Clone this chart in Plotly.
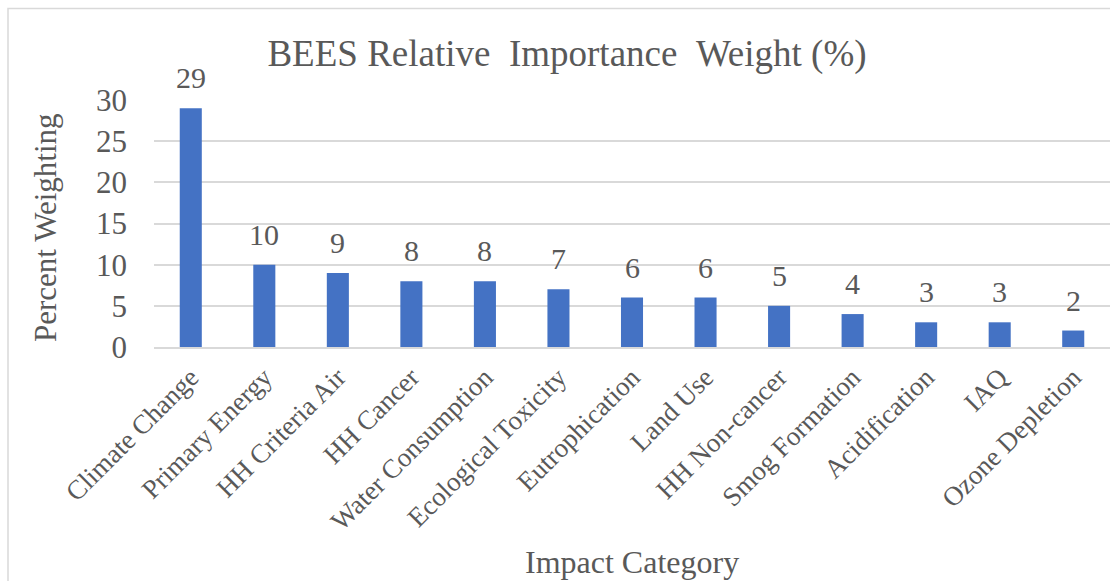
import plotly.graph_objects as go

categories = ["Climate Change", "Primary Energy", "HH Criteria Air", "HH Cancer",
              "Water Consumption", "Ecological Toxicity", "Eutrophication", "Land Use",
              "HH Non-cancer", "Smog Formation", "Acidification", "IAQ", "Ozone Depletion"]
weights = [29, 10, 9, 8, 8, 7, 6, 6, 5, 4, 3, 3, 2]
y_ticks = [0, 5, 10, 15, 20, 25, 30]

FONT = "Times New Roman, Liberation Serif, serif"
TXT = "#595959"
GRID = "#d9d9d9"
BAR = "#4472c4"

W, H = 1110, 581
L, R, T, B = 154, 0, 100, 234
pw, ph = W - L - R, H - T - B

def px_x(p):
    return (p - L) / pw

def px_y(p):
    return (H - B - p) / ph

fig = go.Figure()
fig.add_trace(go.Bar(x=categories, y=weights, marker=dict(color=BAR, line=dict(width=0)),
                     hoverinfo="x+y"))

annotations = [
    dict(x=c, y=v, xref="x", yref="y", text=str(v), showarrow=False,
         yanchor="bottom", yshift=12, font=dict(family=FONT, size=30, color=TXT))
    for c, v in zip(categories, weights)
]
annotations.append(dict(x=0.5, y=px_y(562), xref="paper", yref="paper",
                        text="Impact Category", showarrow=False,
                        xanchor="center", yanchor="middle",
                        font=dict(family=FONT, size=32, color=TXT)))
annotations.append(dict(x=px_x(45), y=px_y(228), xref="paper", yref="paper",
                        text="Percent Weighting", showarrow=False, textangle=-90,
                        xanchor="center", yanchor="middle",
                        font=dict(family=FONT, size=31, color=TXT)))

fig.update_layout(
    width=W, height=H,
    margin=dict(l=L, r=R, t=T, b=B, pad=0),
    paper_bgcolor="white", plot_bgcolor="white",
    showlegend=False,
    bargap=0.7,
    title=dict(text="BEES\u00a0Relative\u00a0\u00a0Importance\u00a0\u00a0Weight\u00a0(%)",
               x=567 / W, xanchor="center", y=1 - 53 / H, yanchor="middle",
               font=dict(family=FONT, size=37, color=TXT)),
    annotations=annotations,
    shapes=[dict(type="rect", xref="paper", yref="paper",
                 x0=px_x(8), x1=px_x(1130), y0=px_y(600), y1=px_y(8.5),
                 line=dict(color=GRID, width=1.5), fillcolor="rgba(0,0,0,0)", layer="below")],
    xaxis=dict(tickangle=-45, tickfont=dict(family=FONT, size=27, color=TXT),
               showgrid=False, showline=True, linecolor=GRID, linewidth=1.5,
               ticks="", ticklabelstandoff=2, fixedrange=True),
    yaxis=dict(range=[0, 30], tickvals=y_ticks, ticktext=[str(t) for t in y_ticks],
               tickfont=dict(family=FONT, size=31, color=TXT),
               showgrid=True, gridcolor=GRID, gridwidth=1.5,
               zeroline=False, showline=False, ticks="", ticklabelstandoff=26,
               fixedrange=True),
)

fig.write_html("out.html", config={"displayModeBar": False},
               post_script="document.body.style.margin='0px';document.body.style.overflow='hidden';")
